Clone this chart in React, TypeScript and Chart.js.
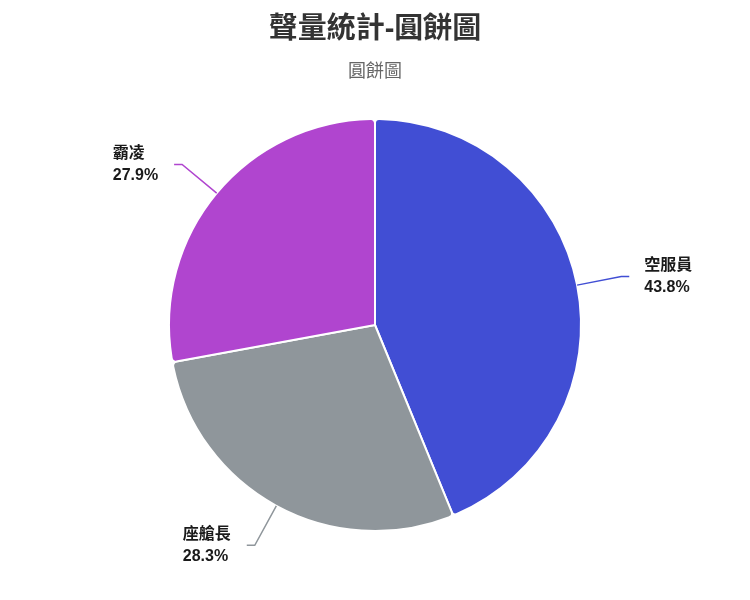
import React, { useEffect, useRef } from "react";
import { Chart, registerables } from "chart.js";

Chart.register(...registerables);

const titleText = "聲量統計-圓餅圖";
const subtitleText = "圓餅圖";
const categories = ["空服員", "座艙長", "霸凌"];
const shares = [43.8, 28.3, 27.9];
const sliceColors = ["#414ed4", "#8f969b", "#b045cf"];

const FONT = '"Liberation Sans", "Noto Sans CJK TC", sans-serif';

const outsideLabels = {
  id: "outsideLabels",
  afterDatasetsDraw(chart: any) {
    const ctx = chart.ctx;
    const meta = chart.getDatasetMeta(0);
    const ds = chart.data.datasets[0];
    ctx.save();
    meta.data.forEach((arc: any, i: number) => {
      const { x, y, startAngle, endAngle, outerRadius } = arc.getProps(
        ["x", "y", "startAngle", "endAngle", "outerRadius"],
        true
      );
      const mid = (startAngle + endAngle) / 2;
      const c = Math.cos(mid);
      const s = Math.sin(mid);
      const x0 = x + c * outerRadius;
      const y0 = y + s * outerRadius;
      const x1 = x + c * (outerRadius + 45);
      const y1 = y + s * (outerRadius + 45);
      const right = c >= 0;
      const x2 = x1 + (right ? 8 : -8);
      ctx.strokeStyle = ds.backgroundColor[i];
      ctx.lineWidth = 1.5;
      ctx.beginPath();
      ctx.moveTo(x0, y0);
      ctx.lineTo(x1, y1);
      ctx.lineTo(x2, y1);
      ctx.stroke();

      const lines = [String(chart.data.labels[i]), ds.data[i].toFixed(1) + "%"];
      ctx.font = "bold 16px " + FONT;
      ctx.fillStyle = "#1a1a1a";
      ctx.textBaseline = "middle";
      ctx.textAlign = "left";
      const w = Math.max(...lines.map((t) => ctx.measureText(t).width));
      const left = right ? x2 + 15 : x2 - 16 - w;
      lines.forEach((t, k) => {
        ctx.fillText(t, left, y1 - 11 + k * 22);
      });
    });
    ctx.restore();
  },
};

export default function App() {
  const ref = useRef<HTMLCanvasElement | null>(null);
  useEffect(() => {
    if (!ref.current) return;
    const chart = new Chart(ref.current, {
      type: "pie",
      data: {
        labels: categories,
        datasets: [
          {
            data: shares,
            backgroundColor: sliceColors,
            borderColor: "#ffffff",
            borderWidth: 2,
            borderRadius: 4,
          },
        ],
      },
      options: {
        animation: false,
        responsive: true,
        maintainAspectRatio: false,
        events: [],
        layout: { padding: { top: 0, bottom: 68, left: 0, right: 0 } },
        plugins: {
          legend: { display: false },
          tooltip: { enabled: false },
          title: {
            display: true,
            text: titleText,
            color: "#333333",
            font: { family: FONT, size: 29, weight: "bold" },
            padding: { top: 13, bottom: 13.4 },
          },
          subtitle: {
            display: true,
            text: subtitleText,
            color: "#666666",
            font: { family: FONT, size: 18, weight: "normal" },
            padding: { top: 0, bottom: 35.2 },
          },
        },
      },
      plugins: [outsideLabels],
    });
    return () => chart.destroy();
  }, []);
  return (
    <div style={{ position: "fixed", left: 0, top: 0, width: 750, height: 600, background: "#fff" }}>
      <canvas ref={ref} />
    </div>
  );
}
